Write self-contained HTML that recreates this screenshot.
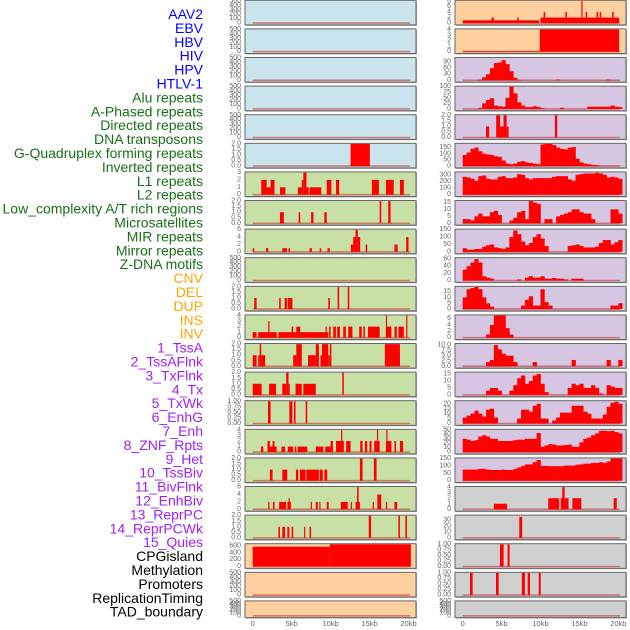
<!DOCTYPE html>
<html><head><meta charset="utf-8">
<style>
html,body{margin:0;padding:0;background:#fff;}
svg{display:block;font-family:"Liberation Sans",sans-serif;}
</style></head>
<body>
<svg id="chart" width="630" height="630" viewBox="0 0 630 630" xmlns="http://www.w3.org/2000/svg"></svg>
<script>
// ---- data ----
const labels = ["AAV2","EBV","HBV","HIV","HPV","HTLV-1","Alu repeats","A-Phased repeats","Directed repeats","DNA transposons","G-Quadruplex forming repeats","Inverted repeats","L1 repeats","L2 repeats","Low_complexity A/T rich regions","Microsatellites","MIR repeats","Mirror repeats","Z-DNA motifs","CNV","DEL","DUP","INS","INV","1_TssA","2_TssAFlnk","3_TxFlnk","4_Tx","5_TxWk","6_EnhG","7_Enh","8_ZNF_Rpts","9_Het","10_TssBiv","11_BivFlnk","12_EnhBiv","13_ReprPC","14_ReprPCWk","15_Quies","CPGisland","Methylation","Promoters","ReplicationTiming","TAD_boundary"];
const labelColors = ["#0000ff","#0000ff","#0000ff","#0000ff","#0000ff","#0000ff","#1a6e1a","#1a6e1a","#1a6e1a","#1a6e1a","#1a6e1a","#1a6e1a","#1a6e1a","#1a6e1a","#1a6e1a","#1a6e1a","#1a6e1a","#1a6e1a","#1a6e1a","#ffa500","#ffa500","#ffa500","#ffa500","#ffa500","#a020f0","#a020f0","#a020f0","#a020f0","#a020f0","#a020f0","#a020f0","#a020f0","#a020f0","#a020f0","#a020f0","#a020f0","#a020f0","#a020f0","#a020f0","#000000","#000000","#000000","#000000","#000000"];
const xTicks = [0,5,10,15,20];
const xTickLabels = ["0","5kb","10kb","15kb","20kb"];

// left column: background, ymax, ticks, segments [startKb,endKb,value]
const leftBg = ["#c9e4ec","#c9e4ec","#c9e4ec","#c9e4ec","#c9e4ec","#c9e4ec","#c8e0a6","#c8e0a6","#c8e0a6","#c8e0a6","#c8e0a6","#c8e0a6","#c8e0a6","#c8e0a6","#c8e0a6","#c8e0a6","#c8e0a6","#c8e0a6","#c8e0a6","#ffd09f","#ffd09f","#ffd09f"];
const leftMax = [500,500,500,500,500,2,3,2,6,500,2,4,2,2,1,4,2,6,2,650,500,500];
const leftTicks = [
 ["0","100","200","300","400","500"],["0","100","200","300","400","500"],["0","100","200","300","400","500"],["0","100","200","300","400","500"],["0","100","200","300","400","500"],
 ["0.0","0.5","1.0","1.5","2.0"],["0","1","2","3"],["0.0","0.5","1.0","1.5","2.0"],["0","2","4","6"],["0","100","200","300","400","500"],
 ["0.0","0.5","1.0","1.5","2.0"],["0","1","2","3","4"],["0.0","0.5","1.0","1.5","2.0"],["0.0","0.5","1.0","1.5","2.0"],["0.00","0.25","0.50","0.75","1.00"],
 ["0","1","2","3","4"],["0.0","0.5","1.0","1.5","2.0"],["0","2","4","6"],["0.0","0.5","1.0","1.5","2.0"],["0","200","400","600"],["0","100","200","300","400","500"],["0","100","200","300","400","500"]];
const leftSegs = [
 [],[],[],[],[],
 [[12.56,15.04,2]],
 [[1.1,1.8,2],[1.8,2.3,1],[2.3,2.8,2],[3.5,4.2,1],[5.8,6.3,1],[6.3,6.5,2],[6.5,6.9,3],[6.9,7.2,1],[7.3,8.8,1],[9.5,10.1,2],[10.7,11.1,2],[15.3,16.2,2],[17.1,18.1,2],[18.9,19.4,2]],
 [[3.5,4.0,1],[5.9,6.1,1],[7.5,7.8,1],[9.2,9.5,1],[16.3,16.5,2],[17.4,17.7,2]],
 [[0.0,0.2,1],[1.7,2.0,1],[3.8,4.4,1],[4.6,4.8,1],[7.3,7.6,1],[8.6,8.8,1],[9.6,9.9,1],[12.6,12.9,2],[12.9,13.2,4],[13.2,13.5,6],[13.5,13.8,4],[14.5,14.7,2],[18.2,18.6,2],[19.7,20.0,4]],
 [],
 [[0.2,0.5,1],[3.4,3.6,1],[4.1,4.4,1],[4.5,5.1,1],[9.7,9.9,1],[10.9,11.1,2],[12.2,12.4,2]],
 [[0,0.5,1],[0.7,3.1,1],[2.0,2.1,3],[3.3,9.7,1],[5.0,5.2,2],[5.6,6.1,2],[9.35,9.5,2],[9.8,10.0,2],[10.34,10.68,2],[10.85,11.2,2],[11.62,11.96,2],[12.26,12.8,2],[13.67,14.0,2],[14.2,14.4,2],[14.8,16.3,2],[17.1,17.8,2],[17.1,17.25,4],[18.2,18.5,2],[18.7,19.4,2],[19.7,19.85,4]],
 [[0.0,0.5,1],[0.7,0.9,1],[0.9,1.1,2],[1.1,1.6,1],[5.2,5.6,1],[5.6,6.3,2],[7.1,8.1,1],[8.1,8.5,2],[8.7,8.9,1],[8.9,9.7,2],[9.7,9.9,1],[9.9,10.1,2],[16.96,18.9,2]],
 [[0.0,1.15,1],[2.1,3.0,1],[3.8,4.3,1],[4.3,4.6,2],[4.6,4.75,1],[5.5,6.3,1],[6.5,8.1,1],[11.5,11.7,2]],
 [[1.96,2.3,1],[4.7,5.1,1],[5.3,5.5,1],[6.8,7.0,1]],
 [[1.06,1.36,1],[1.9,3.07,1],[1.9,2.2,2],[2.55,2.8,2],[3.7,4.14,1],[4.5,5.2,1],[5.4,5.6,1],[5.76,7.0,1],[8.1,9.06,1],[9.3,10.3,1],[10.0,10.3,2],[10.7,11.7,2],[11.35,11.5,4],[12.0,12.56,2],[13.8,14.1,2],[14.4,14.7,2],[15.0,15.25,2],[15.6,16.3,2],[15.95,16.1,4],[17.1,17.8,2],[17.15,17.3,4],[18.2,18.4,2],[18.9,19.3,2]],
 [[2.2,2.55,1],[3.8,4.44,1],[5.55,5.85,1],[6.06,6.8,1],[6.9,8.5,1],[8.6,9.0,1],[9.2,9.57,1],[13.76,14.1,2],[15.55,15.9,2]],
 [[2.0,2.1,2],[2.6,2.8,2],[3.4,4.3,2],[4.45,4.9,2],[4.6,4.75,3],[7.45,7.6,2],[8.1,8.35,2],[8.55,8.7,2],[9.5,9.75,2],[11.3,12.2,2],[12.6,12.75,2],[13.2,13.76,2],[13.4,13.6,6],[15.4,15.55,2],[16.0,16.5,4],[17.1,17.25,2],[18.2,18.55,2]],
 [[3.3,3.5,1],[3.8,4.15,1],[4.45,4.7,1],[5.0,5.2,1],[6.6,6.75,1],[7.3,7.5,1],[14.9,15.2,2],[18.7,18.9,2],[19.6,19.8,2]],
 [[0.0,9.9,580],[9.9,20.3,650]],
 [],[]
];

// right column
const rightBg = ["#ffd09f","#ffd09f","#d6c6e2","#d6c6e2","#d6c6e2","#d6c6e2","#d6c6e2","#d6c6e2","#d6c6e2","#d6c6e2","#d6c6e2","#d6c6e2","#d6c6e2","#d6c6e2","#d6c6e2","#d6c6e2","#d6c6e2","#d0d0d0","#d0d0d0","#d0d0d0","#d0d0d0","#d0d0d0"];
const rightMax = [8,4,110,100,2,180,335,16,150,62,19,7,10.5,16,22.5,50,150,4,37,1,1,500];
const rightTicks = [
 ["0","2","4","6","8"],["0","1","2","3","4"],["0","30","60","90"],["0","25","50","75","100"],["0.0","0.5","1.0","1.5","2.0"],["0","50","100","150"],["0","100","200","300"],["0","5","10","15"],["0","50","100","150"],["0","20","40","60"],["0","5","10","15"],["0","2","4","6"],["0.0","2.5","5.0","7.5","10.0"],["0","5","10","15"],["0","5","10","15","20"],["0","10","20","30","40","50"],["0","50","100","150"],["0","1","2","3","4"],["0","10","20","30"],["0.00","0.25","0.50","0.75","1.00"],["0.00","0.25","0.50","0.75","1.00"],["0","100","200","300","400","500"]];
const rightSegs = [
 [[0,9.8,1],[3.7,4.0,2],[7.0,7.2,2],[10.0,20.1,2],[10.4,10.6,4],[13.2,13.4,4],[15.25,15.4,8],[15.8,16.0,4],[17.2,17.4,4],[17.6,17.8,4],[19.2,19.4,4]],
 [[0,9.9,0.1],[9.9,20.1,4]],
 [],[],
 [[3.0,3.4,1],[4.3,4.8,2],[4.8,5.25,1],[5.25,5.65,2],[5.65,5.9,1],[11.85,12.15,2]],
 [],[],[],[],[],[],[],[],[],[],[],[],
 [[4.0,5.7,1],[11.0,12.4,2],[12.6,13.6,2],[12.8,13.1,4],[14.1,15.25,2],[19.4,19.8,2]],
 [[7.27,7.65,35]],
 [[4.79,5.26,1],[5.77,6.03,1]],
 [[0.94,1.28,1],[4.28,4.62,1],[7.6,8.0,1],[8.35,8.65,1],[9.77,10.03,1]],
 []
];
// right density panels: 0.5kb bins starting at 0kb (41 bins)
const r2 = [0,0,0,0,3,15,30,60,85,88,100,80,45,12,2,0,0,0,0,0,0,0,0,0,4,0,0,0,0,0,0,0,0,0,0,0,0,4,0,0,0];
const r3 = [0,0,0,0,5,25,40,48,15,12,10,50,100,70,30,15,8,8,12,8,3,0,0,0,0,5,0,0,0,0,0,0,10,10,10,10,10,10,15,10,8];
const r5 = [90,110,140,150,120,100,95,90,80,75,45,20,15,20,35,40,30,25,20,15,175,180,180,170,150,140,135,150,155,60,30,20,15,10,8,2,2,2,2,2,2];
const r6 = [270,260,240,210,280,290,240,230,230,270,280,250,250,260,310,300,250,230,250,250,250,250,250,270,280,280,280,230,210,300,310,320,320,320,330,320,300,260,270,260,240];
const r7 = [3,3,2,5,7,5,5,8,9,6,0,0,2,4,8,9,3,16,15,14,0,3,3,0,5,6,7,8,10,10,8,7,7,3,0,0,0,0,10,10,7];
const r8 = [25,15,15,20,20,35,45,50,30,25,20,30,100,145,120,70,45,60,100,120,90,40,0,0,0,0,0,40,45,50,40,30,30,30,35,60,80,80,50,65,80];
const r9 = [30,40,50,60,50,12,8,5,0,0,0,0,0,0,3,0,8,12,8,8,12,5,5,7,5,5,3,0,5,5,5,0,0,0,0,0,0,0,0,0,0];
const r10 = [10,17,18,19,17,10,5,2,0,0,0,0,0,0,0,3,8,11,3,3,17,6,3,0,0,0,0,0,0,0,0,0,0,0,0,0,0,0,3,3,5];
const r11 = [0,0,0,0,0,0,1,4,7,7,7,3,1,0,0,0,0,0,0,0,0,0,0,0,0,0,0,0,0,0,0,0,0,0,0,0,0,0,0,0,0];
const r12 = [0,0,0,0,0,0,2,3,10,8,6,5,5,2,0,0,0,0,2,0,0,0,0,0,0,0,0,0,3,0,0,0,0,0,0,0,0,3,0,0,3];
const r13 = [0,0,0,0,0,0,3,5,5,3,0,0,3,7,12,14,8,10,14,15,8,2,0,0,0,0,0,5,8,7,8,5,5,7,5,1,0,7,6,5,5];
const r14 = [6,8,10,13,10,7,14,15,6,0,0,0,0,0,5,14,14,12,18,20,5,5,0,3,6,11,11,11,18,18,18,12,10,5,5,5,9,17,21,22,20];
const r15 = [30,28,25,27,35,38,35,30,30,25,25,25,25,27,28,28,30,30,30,43,12,15,18,17,15,15,16,17,12,12,22,30,33,38,42,48,48,47,48,45,42];
const r16 = [75,75,75,75,80,80,75,72,72,72,75,72,72,80,90,100,110,110,125,140,100,100,98,98,98,98,102,102,102,108,110,115,115,120,120,125,120,130,150,150,150];
const rightBins = {2:r2,3:r3,5:r5,6:r6,7:r7,8:r8,9:r9,10:r10,11:r11,12:r12,13:r13,14:r14,15:r15,16:r16};

// ---- drawing ----
const svg = document.getElementById('chart');
const NS = 'http://www.w3.org/2000/svg';
function mk(tag, attrs, parent){ const e=document.createElementNS(NS,tag); for(const k in attrs) e.setAttribute(k,attrs[k]); (parent||svg).appendChild(e); return e; }

// labels
labels.forEach((t,i)=>{
  const e = mk('text',{x:203,y:14+i*13.9,'text-anchor':'end','dominant-baseline':'central','font-size':14,fill:labelColors[i]});
  e.textContent = t;
  
  
});

const cols = [
  {px0:245, px1:416, x0:252.7, x20:408.5, tickX:241, bg:leftBg, max:leftMax, ticks:leftTicks, segs:leftSegs, bins:{}, name:'left'},
  {px0:455, px1:626, x0:462.7, x20:618.3, tickX:451, bg:rightBg, max:rightMax, ticks:rightTicks, segs:rightSegs, bins:rightBins, name:'right'}
];
function rowTop(i){ return i*28.6+0.3; }
function rowH(i){ return i===21 ? 16.7 : 24.6; }

cols.forEach(c=>{
  const xs = kb => c.x0 + (c.x20 - c.x0) * kb / 20;
  for(let i=0;i<22;i++){
    const top=rowTop(i), h=rowH(i), bot=top+h;
    const g = mk('g',{});
    
    
    mk('rect',{x:c.px0+1,y:top+1,width:c.px1-c.px0,height:h,fill:'#aaa'},g);
    mk('rect',{x:c.px0,y:top,width:c.px1-c.px0,height:h,fill:c.bg[i],stroke:'#666','stroke-width':1},g);
    const y0 = bot-1.8, yT = top+0.6, ymax=c.max[i];
    const ys = v => y0 - (y0-yT)*Math.min(v,ymax)/ymax;
    // baseline
    mk('line',{x1:xs(0),x2:xs(20.2),y1:y0,y2:y0,stroke:'rgba(200,40,40,0.55)','stroke-width':1.6},g);
    // ticks
    const tk=c.ticks[i], tmax=parseFloat(tk[tk.length-1]);
    tk.forEach(t=>{
      const v=parseFloat(t);
      const e=mk('text',{x:c.tickX,y:y0-(y0-yT)*v/ymax,'text-anchor':'end','dominant-baseline':'central','font-size':7,fill:'#666'},g);
      e.textContent=t;
      
      
    });
    // segments
    c.segs[i].forEach(s=>{
      const r=mk('rect',{x:xs(s[0]),y:ys(s[2]),width:Math.max(1.2,xs(s[1])-xs(s[0])),height:y0-ys(s[2]),fill:'#ff0000'},g);
      
      
    });
    // bins
    const b=c.bins[i];
    if(b){
      b.forEach((v,k)=>{
        if(v<=0) return;
        const r=mk('rect',{x:xs(k*0.5),y:ys(v),width:xs((k+1)*0.5)-xs(k*0.5)+0.3,height:y0-ys(v),fill:'#ff0000'},g);
        
        
      });
    }
  }
  // x axis labels
  xTicks.forEach((t,k)=>{
    const e=mk('text',{x:xs(t),y:626,'text-anchor':'middle','font-size':7.5,fill:'#666'});
    e.textContent=xTickLabels[k];
    
    
  });
});
</script>
</body></html>
